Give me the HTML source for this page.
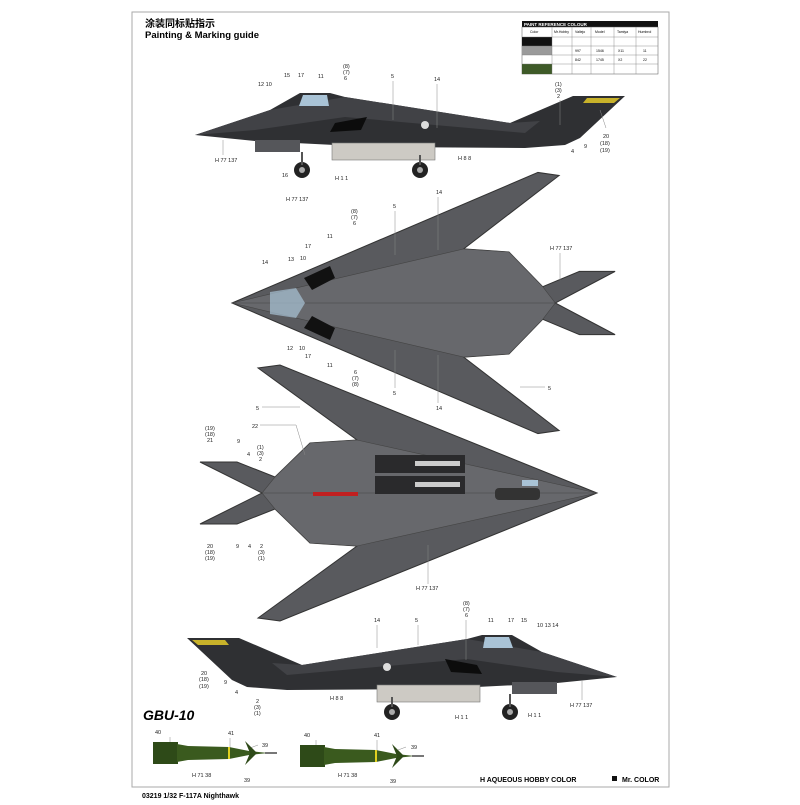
<!DOCTYPE html>
<html><head><meta charset="utf-8"><style>
body{margin:0;background:#fff;width:800px;height:800px;overflow:hidden;font-family:"Liberation Sans","Noto Sans CJK SC",sans-serif}
svg text{font-family:"Liberation Sans","Noto Sans CJK SC",sans-serif}
</style></head><body>
<svg width="800" height="800" viewBox="0 0 800 800" xmlns="http://www.w3.org/2000/svg">
<defs>
<g id="side">
 <polygon points="0,0 75,-25 105,-42 135,-42 150,-38 315,-12 378,-39 430,-39 385,3 370,10 330,13 180,12 60,6" fill="#2f3033"/>
 <polygon points="0,0 75,-25 150,-38 315,-12 345,-14 330,-2 150,-18 60,-5" fill="#414246"/>
 <polygon points="108,-40 132,-40 134,-29 104,-29" fill="#a9c3d6"/>
 <polygon points="140,-12 172,-18 166,-5 135,-3" fill="#0c0c0c"/>
 <rect x="137" y="8" width="103" height="17" fill="#cdcac4" stroke="#777" stroke-width="0.6"/>
 <rect x="60" y="5" width="45" height="12" fill="#55565a"/>
 <circle cx="107" cy="35" r="8" fill="#222"/><circle cx="107" cy="35" r="3" fill="#aaa"/>
 <circle cx="225" cy="35" r="8" fill="#222"/><circle cx="225" cy="35" r="3" fill="#aaa"/>
 <line x1="107" y1="17" x2="107" y2="30" stroke="#555" stroke-width="2"/>
 <line x1="225" y1="20" x2="225" y2="30" stroke="#555" stroke-width="2"/>
 <polygon points="392,-37 425,-37 419,-32 388,-32" fill="#c8b22a"/>
 <circle cx="230" cy="-10" r="4" fill="#ddd"/>
</g>
<g id="plan">
 <polygon points="597,493 280,365 258,368 357,440 310,443 275,477 237,462 200,462 262,493 200,524 237,524 275,509 310,543 357,546 258,618 280,621" fill="#595a5e" stroke="#333" stroke-width="1"/>
 <polygon points="597,493 357,440 310,443 275,477 262,493 275,509 310,543 357,546" fill="#67686c" stroke="#444" stroke-width="0.6"/>
 <line x1="262" y1="493" x2="597" y2="493" stroke="#444" stroke-width="0.6"/>
</g>
<g id="bomb">
 <rect x="0" y="-11" width="25" height="22" fill="#2e4a18"/>
 <polygon points="24,-9 35,-7 76,-6 96,-2 115,0 96,2 76,6 35,7 24,9" fill="#3a5a1e"/>
 <rect x="75" y="-6" width="2" height="12" fill="#e0d020"/>
 <polygon points="92,-12 104,0 92,12 97,0" fill="#2e4a18"/>
 <line x1="112" y1="0" x2="124" y2="0" stroke="#777" stroke-width="2"/>
</g>
</defs>
<rect x="132" y="12" width="537" height="775" fill="none" stroke="#aaa" stroke-width="1"/>
<text x="145" y="27" font-size="10" font-weight="bold">涂装同标贴指示</text>
<text x="145" y="38" font-size="9.5" font-weight="bold">Painting &amp; Marking guide</text>
<g font-size="3.5">
<rect x="522" y="21" width="136" height="6" fill="#111"/>
<text x="524" y="26" fill="#fff" font-size="4.5" font-weight="bold">PAINT REFERENCE COLOUR</text>
<rect x="522" y="27" width="136" height="47" fill="#fff" stroke="#555" stroke-width="0.5"/>
<rect x="522" y="37" width="30" height="9" fill="#111"/>
<rect x="522" y="46" width="30" height="9" fill="#9a9a9a"/>
<rect x="522" y="64" width="30" height="10" fill="#3e5a28"/>
<g stroke="#777" stroke-width="0.4"><line x1="522" y1="37" x2="658" y2="37"/><line x1="522" y1="46" x2="658" y2="46"/><line x1="522" y1="55" x2="658" y2="55"/><line x1="522" y1="64" x2="658" y2="64"/>
<line x1="552" y1="27" x2="552" y2="74"/><line x1="572" y1="27" x2="572" y2="74"/><line x1="591" y1="27" x2="591" y2="74"/><line x1="614" y1="27" x2="614" y2="74"/><line x1="636" y1="27" x2="636" y2="74"/></g>
<text x="530" y="33">Color</text><text x="554" y="33">Mr.Hobby</text><text x="575" y="33">Vallejo</text><text x="595" y="33">Model</text><text x="617" y="33">Tamiya</text><text x="638" y="33">Humbrol</text>
<text x="575" y="52">997</text><text x="596" y="52">1546</text><text x="618" y="52">X11</text><text x="643" y="52">11</text>
<text x="575" y="61">842</text><text x="596" y="61">1745</text><text x="618" y="61">X2</text><text x="643" y="61">22</text>
</g>
<use href="#side" transform="translate(195,135)"/>
<use href="#plan" transform="translate(232,303) scale(-0.965,1.02) translate(-597,-493)"/>
<polygon points="270,292 296,288 305,303 296,318 270,314" fill="#a9c3d6" opacity="0.7"/>
<polygon points="304,278 330,266 335,278 312,290" fill="#111"/>
<polygon points="304,328 330,340 335,328 312,316" fill="#111"/>
<use href="#plan"/>
<rect x="375" y="455" width="90" height="18" fill="#2a2a2c"/>
<rect x="375" y="476" width="90" height="18" fill="#2a2a2c"/>
<rect x="415" y="461" width="45" height="5" fill="#ccc"/>
<rect x="415" y="482" width="45" height="5" fill="#ccc"/>
<rect x="313" y="492" width="45" height="4" fill="#c02020"/>
<rect x="495" y="488" width="45" height="12" fill="#333" rx="4"/>
<rect x="522" y="480" width="16" height="6" fill="#a9c3d6"/>
<use href="#side" transform="translate(617,677) scale(-1,1)"/>
<g stroke="#888" stroke-width="0.5" fill="none">
<line x1="223" y1="140" x2="223" y2="155"/><line x1="437" y1="84" x2="437" y2="128"/><line x1="393" y1="81" x2="393" y2="120"/>
<line x1="560" y1="100" x2="560" y2="125"/><line x1="606" y1="128" x2="600" y2="110"/>
<line x1="438" y1="197" x2="438" y2="250"/><line x1="395" y1="211" x2="395" y2="255"/><line x1="560" y1="253" x2="560" y2="280"/>
<line x1="438" y1="355" x2="438" y2="403"/><line x1="395" y1="350" x2="395" y2="388"/><line x1="545" y1="387" x2="520" y2="387"/>
<line x1="262" y1="407" x2="300" y2="407"/><line x1="260" y1="425" x2="296" y2="425"/><line x1="296" y1="425" x2="305" y2="455"/>
<line x1="428" y1="584" x2="428" y2="545"/><line x1="377" y1="625" x2="377" y2="648"/><line x1="418" y1="625" x2="418" y2="645"/>
<line x1="466" y1="620" x2="466" y2="660"/><line x1="582" y1="700" x2="582" y2="680"/>
<line x1="170" y1="737" x2="170" y2="745"/><line x1="230" y1="738" x2="230" y2="748"/><line x1="258" y1="745" x2="250" y2="748"/>
<line x1="316" y1="740" x2="316" y2="748"/><line x1="377" y1="740" x2="377" y2="752"/><line x1="406" y1="747" x2="398" y2="750"/>
</g>
<g font-size="5.5" fill="#222">
<text x="258" y="86">12 10</text><text x="284" y="77">15</text><text x="298" y="77">17</text><text x="318" y="78">11</text>
<text x="343" y="68">(8)</text><text x="343" y="74">(7)</text><text x="344" y="80">6</text><text x="391" y="78">5</text><text x="434" y="81">14</text>
<text x="555" y="86">(1)</text><text x="555" y="92">(3)</text><text x="557" y="98">2</text>
<text x="603" y="138">20</text><text x="600" y="145">(18)</text><text x="600" y="152">(19)</text><text x="584" y="148">9</text><text x="571" y="153">4</text>
<text x="282" y="177">16</text><text x="215" y="162">H 77 137</text><text x="458" y="160">H 8 8</text><text x="335" y="180">H 1 1</text>
<text x="286" y="201">H 77 137</text>
<text x="550" y="250">H 77 137</text>
<text x="351" y="213">(8)</text><text x="351" y="219">(7)</text><text x="353" y="225">6</text><text x="393" y="208">5</text><text x="436" y="194">14</text>
<text x="327" y="238">11</text><text x="305" y="248">17</text><text x="300" y="260">10</text><text x="288" y="261">13</text><text x="262" y="264">14</text>
<text x="287" y="350">12</text><text x="299" y="350">10</text><text x="305" y="358">17</text><text x="327" y="367">11</text>
<text x="354" y="374">6</text><text x="352" y="380">(7)</text><text x="352" y="386">(8)</text><text x="393" y="395">5</text><text x="436" y="410">14</text><text x="548" y="390">5</text>
<text x="256" y="410">5</text><text x="252" y="428">22</text>
<text x="205" y="430">(19)</text><text x="205" y="436">(18)</text><text x="207" y="442">21</text><text x="237" y="443">9</text><text x="247" y="456">4</text>
<text x="257" y="449">(1)</text><text x="257" y="455">(3)</text><text x="259" y="461">2</text>
<text x="207" y="548">20</text><text x="205" y="554">(18)</text><text x="205" y="560">(19)</text><text x="236" y="548">9</text><text x="248" y="548">4</text>
<text x="260" y="548">2</text><text x="258" y="554">(3)</text><text x="258" y="560">(1)</text>
<text x="416" y="590">H 77 137</text>
<text x="463" y="605">(8)</text><text x="463" y="611">(7)</text><text x="465" y="617">6</text><text x="374" y="622">14</text><text x="415" y="622">5</text>
<text x="488" y="622">11</text><text x="508" y="622">17</text><text x="521" y="622">15</text><text x="537" y="627">10 13 14</text>
<text x="201" y="675">20</text><text x="199" y="681">(18)</text><text x="199" y="688">(19)</text><text x="224" y="684">9</text><text x="235" y="694">4</text>
<text x="256" y="703">2</text><text x="254" y="709">(3)</text><text x="254" y="715">(1)</text>
<text x="330" y="700">H 8 8</text><text x="455" y="719">H 1 1</text><text x="528" y="717">H 1 1</text><text x="570" y="707">H 77 137</text>
<text x="155" y="734">40</text><text x="228" y="735">41</text><text x="262" y="747">39</text><text x="244" y="782">39</text><text x="192" y="777">H 71 38</text>
<text x="304" y="737">40</text><text x="374" y="737">41</text><text x="411" y="749">39</text><text x="390" y="783">39</text><text x="338" y="777">H 71 38</text>
</g>
<text x="143" y="720" font-size="14" font-weight="bold" font-style="italic">GBU-10</text>
<use href="#bomb" transform="translate(153,753)"/>
<use href="#bomb" transform="translate(300,756)"/>
<text x="480" y="782" font-size="7" font-weight="bold">H  AQUEOUS HOBBY COLOR</text>
<rect x="612" y="776" width="5" height="5" fill="#111"/>
<text x="622" y="782" font-size="7" font-weight="bold">Mr. COLOR</text>
<text x="142" y="798" font-size="7" font-weight="bold">03219   1/32   F-117A Nighthawk</text>
</svg>
</body></html>
